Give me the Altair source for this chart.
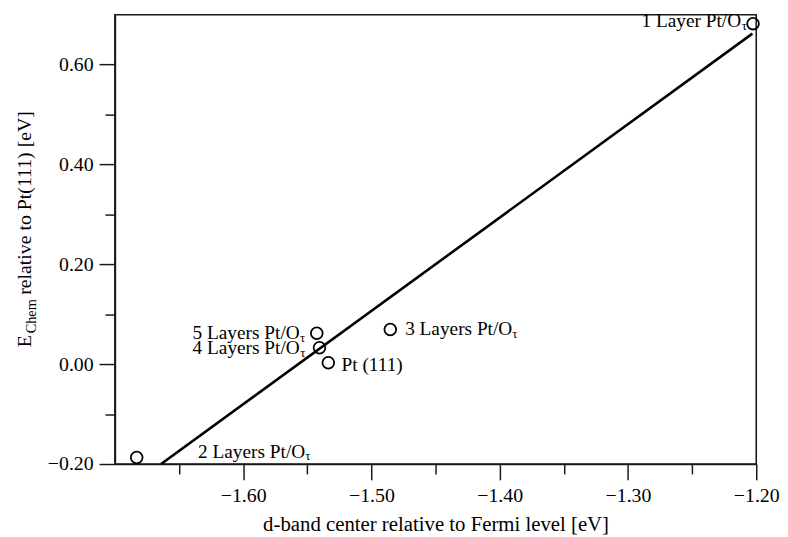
import altair as alt
import pandas as pd

# --- data ---
names = ["2 Layers Pt/O", "1 Layer Pt/O", "3 Layers Pt/O", "4 Layers Pt/O", "5 Layers Pt/O", "Pt (111)"]
subs = ["τ", "τ", "τ", "τ", "τ", ""]
dband = [-1.683, -1.2025, -1.4853, -1.5405, -1.5426, -1.5336]
echem = [-0.187, 0.682, 0.0695, 0.033, 0.062, 0.003]

fit_x = [-1.664, -1.203]
fit_y = [-0.200, 0.662]

x_ticks = [round(-1.65 + 0.05 * i, 2) for i in range(10)]
y_ticks = [round(-0.2 + 0.1 * i, 1) for i in range(9)]

x_title = "d-band center relative to Fermi level [eV]"
y_title_parts = ["E", "Chem", "relative to Pt(111) [eV]"]

FONT = "Liberation Serif"
INK = "#1a1a1a"
LBL = 19.5

pts = pd.DataFrame({"name": names, "sub": subs, "x": dband, "y": echem})
fit = pd.DataFrame({"x": fit_x, "y": fit_y})
ttl = pd.DataFrame({"t": y_title_parts})

xscale = alt.Scale(domain=[-1.70, -1.20], nice=False, zero=False)
yscale = alt.Scale(domain=[-0.20, 0.70], nice=False, zero=False)

common = dict(
    format=".2f", grid=False, labelFlush=False, labelOverlap=False, labelPadding=6,
    labelFont=FONT, labelFontSize=20, labelColor="black",
    titleFont=FONT, titleFontSize=21, titleColor="black", titleFontWeight="normal",
    domainColor=INK, domainWidth=1.6, tickColor=INK, tickWidth=1.5,
)

xaxis = alt.Axis(
    values=x_ticks,
    labelExpr="round(datum.value*20) % 2 == 0 ? datum.label : ''",
    tickSize={"condition": {"test": "round(datum.value*20) % 2 == 0", "value": 16}, "value": 10},
    title=x_title, titlePadding=8, **common,
)
yaxis = alt.Axis(
    values=y_ticks,
    labelExpr="round(datum.value*10) % 2 == 0 ? datum.label : ''",
    tickSize={"condition": {"test": "round(datum.value*10) % 2 == 0", "value": 16}, "value": 10},
    title=None, **common,
)

X = alt.X("x:Q", scale=xscale, axis=xaxis)
Y = alt.Y("y:Q", scale=yscale, axis=yaxis)
Xn = alt.X("x:Q", scale=xscale)
Yn = alt.Y("y:Q", scale=yscale)

line = alt.Chart(fit).mark_line(color="black", strokeWidth=2.6, clip=True).encode(x=X, y=Y)

circles = alt.Chart(pts).mark_point(
    shape="circle", size=140, filled=False, stroke="black", strokeWidth=1.8, opacity=1
).encode(x=Xn, y=Yn)

# label placement (style): name -> (align, dx, dy, dx of subscript)
W = 5.555 * LBL
place = {
    "2 Layers Pt/O": ("left", 62, -6, 62 + W),
    "1 Layer Pt/O": ("right", -12, -3, -11.5),
    "3 Layers Pt/O": ("left", 15, 0, 15 + W),
    "4 Layers Pt/O": ("right", -20, 0, -19.5),
    "5 Layers Pt/O": ("right", -17.3, 0, -17),
    "Pt (111)": ("left", 13.3, 2, 0),
}

layers = [line, circles]
base = alt.Chart(pts)
for nm, (al, dx, dy, sdx) in place.items():
    sel = base.transform_filter(alt.datum.name == nm)
    layers.append(
        sel.mark_text(align=al, baseline="middle", dx=dx, dy=dy, font=FONT, fontSize=LBL, color="black")
        .encode(x=Xn, y=Yn, text="name:N")
    )
    if nm != "Pt (111)":
        layers.append(
            sel.mark_text(align="left", baseline="middle", dx=sdx, dy=dy + 5, font=FONT, fontSize=13, color="black")
            .encode(x=Xn, y=Yn, text="sub:N")
        )

# y-axis title with subscript, rotated
tb = alt.Chart(ttl)
layers.append(
    tb.transform_filter(alt.datum.t == "E").mark_text(
        align="left", baseline="alphabetic", angle=270, font=FONT, fontSize=20, color="black"
    ).encode(x=alt.value(-85), y=alt.value(336), text="t:N")
)
layers.append(
    tb.transform_filter(alt.datum.t == "Chem").mark_text(
        align="left", baseline="alphabetic", angle=270, font=FONT, fontSize=14.5, color="black"
    ).encode(x=alt.value(-80), y=alt.value(322), text="t:N")
)
layers.append(
    tb.transform_filter(alt.datum.t == "relative to Pt(111) [eV]").mark_text(
        align="left", baseline="alphabetic", angle=270, font=FONT, fontSize=20, color="black"
    ).encode(x=alt.value(-85), y=alt.value(283), text="t:N")
)

chart = alt.layer(*layers).properties(
    width=648, height=454,
    autosize=alt.AutoSizeParams(type="none"),
    padding={"left": 108, "top": 4, "right": 24, "bottom": 71},
).configure_view(
    stroke=INK, strokeWidth=1.6
)

chart.save("out.html", embed_options={"renderer": "svg", "actions": False})
